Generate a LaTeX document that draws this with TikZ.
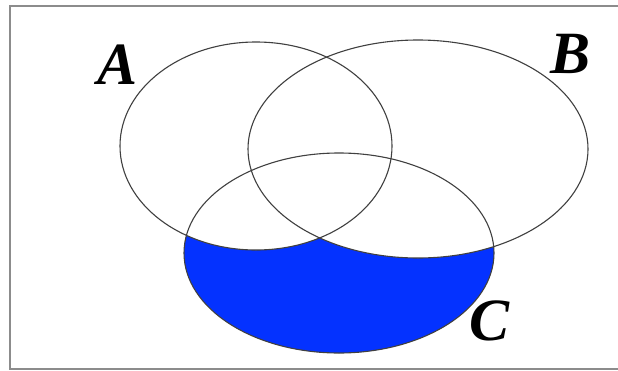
\documentclass[tikz,border=0pt]{standalone}
\usepackage{fontspec}
\setmainfont{Liberation Serif}
\begin{document}
\begin{tikzpicture}[x=1pt,y=-1pt,
  setline/.style={draw=black!75, line width=1.1pt},
  framel/.style={draw=black!45, line width=2pt},
  lab/.style={font=\fontsize{60}{60}\selectfont\bfseries\itshape, inner sep=0pt}]
\useasboundingbox (0,0) rectangle (618,370);
\definecolor{vblue}{RGB}{4,50,255}
% shaded region: C minus (A union B)
\fill[vblue] (339,253) ellipse [x radius=155, y radius=100];
\fill[white] (256,146) ellipse [x radius=136, y radius=104];
\fill[white] (418,149) ellipse [x radius=170, y radius=109];
% outlines
\draw[setline] (256,146) ellipse [x radius=136, y radius=104];
\draw[setline] (418,149) ellipse [x radius=170, y radius=109];
\draw[setline] (339,253) ellipse [x radius=155, y radius=100];
% frame
\coordinate (ftr) at (630,6);
\coordinate (ftl) at (9.5,6);
\coordinate (fbl) at (9.5,368.5);
\coordinate (fbr) at (630,368.5);
\draw[framel] (ftr) -- (ftl) -- (fbl) -- (fbr);
% labels
\node[lab] (la) at (118,65) {A};
\node[lab] (lb) at (571,54) {B};
\node[lab] (lc) at (490,321) {C};
\end{tikzpicture}
\end{document}
